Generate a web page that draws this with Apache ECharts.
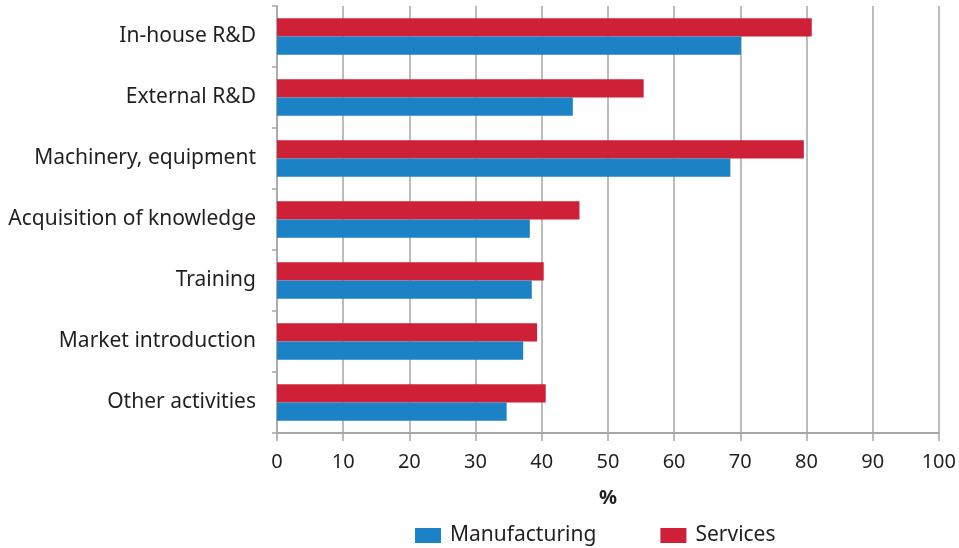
<!DOCTYPE html>
<html>
<head>
<meta charset="utf-8">
<script src="https://cdn.jsdelivr.net/npm/echarts@6/dist/echarts.min.js"></script>
<style>
  html, body { margin: 0; padding: 0; background: #fff; }
  #chart { width: 959px; height: 548px; }
</style>
</head>
<body>
<div id="chart"></div>
<script>
// Innovation activities, share of firms (%)
const categories = [
  'In-house R&D',
  'External R&D',
  'Machinery, equipment',
  'Acquisition of knowledge',
  'Training',
  'Market introduction',
  'Other activities'
];
const manufacturing = [70.1, 44.7, 68.5, 38.2, 38.5, 37.2, 34.7];
const services = [80.8, 55.4, 79.6, 45.7, 40.3, 39.3, 40.6];
const xTicks = { min: 0, max: 100, interval: 10 };

const FONT = 'Noto Sans';
const TEXT = '#231F20';
const GRID = '#A6A6A6';

const chart = echarts.init(document.getElementById('chart'));
chart.setOption({
  animation: false,
  textStyle: { fontFamily: FONT },
  grid: { left: 277, right: 18, top: 6, bottom: 115, containLabel: false },
  legend: {
    data: ['Manufacturing', 'Services'],
    top: 520,
    left: 410,
    itemWidth: 26,
    itemHeight: 15,
    itemGap: 64,
    icon: 'rect',
    textStyle: { fontFamily: FONT, fontSize: 21, color: TEXT, padding: [0, 0, 0, 4] }
  },
  xAxis: {
    type: 'value',
    min: xTicks.min,
    max: xTicks.max,
    interval: xTicks.interval,
    name: '%',
    nameLocation: 'middle',
    nameGap: 55,
    nameTextStyle: { fontFamily: FONT, fontSize: 20, fontWeight: 'bold', color: TEXT },
    axisLine: { show: true, lineStyle: { color: GRID, width: 2 } },
    axisTick: { show: true, length: 8, lineStyle: { color: GRID, width: 1.5 } },
    axisLabel: { fontFamily: FONT, fontSize: 20, color: TEXT, margin: 19 },
    splitLine: { show: true, lineStyle: { color: GRID, width: 1.5 } }
  },
  yAxis: {
    type: 'category',
    data: categories,
    inverse: true,
    axisLine: { show: true, lineStyle: { color: GRID, width: 1.5 } },
    axisTick: { show: true, length: 5, lineStyle: { color: GRID, width: 1.5 } },
    axisLabel: { fontFamily: FONT, fontSize: 21, color: TEXT, margin: 21 },
    splitLine: { show: false }
  },
  series: [
    {
      name: 'Services',
      type: 'bar',
      data: services,
      itemStyle: { color: '#CE2036' },
      barWidth: '30%',
      barGap: '0%',
      barCategoryGap: '40%'
    },
    {
      name: 'Manufacturing',
      type: 'bar',
      data: manufacturing,
      itemStyle: { color: '#1C82C6' },
      barWidth: '30%',
      barGap: '0%',
      barCategoryGap: '40%'
    }
  ]
});
</script>
</body>
</html>
